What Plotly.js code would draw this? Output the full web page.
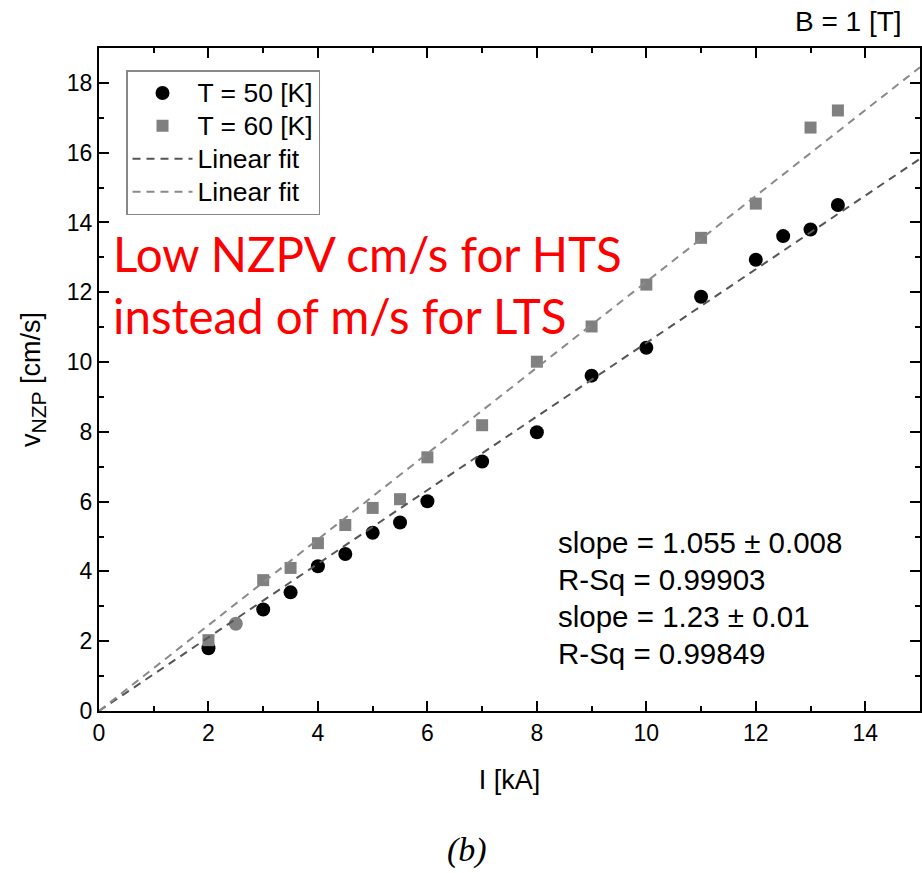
<!DOCTYPE html>
<html>
<head>
<meta charset="utf-8">
<script src="https://cdn.plot.ly/plotly-3.0.1.min.js"></script>
<style>
  html, body { margin: 0; padding: 0; background: #fff; }
  #chart { width: 922px; height: 873px; }
</style>
</head>
<body>
<div id="chart"></div>
<script>
// Normal-zone propagation velocity vs. transport current at B = 1 T
const current50 = [2, 2.5, 3, 3.5, 4, 4.5, 5, 5.5, 6, 7, 8, 9, 10, 11, 12, 12.5, 13, 13.5];
const velocity50 = [1.80, 2.50, 2.91, 3.40, 4.15, 4.50, 5.11, 5.40, 6.01, 7.15, 7.99, 9.61, 10.41, 11.87, 12.93, 13.61, 13.80, 14.50];

const current60 = [2, 3, 3.5, 4, 4.5, 5, 5.5, 6, 7, 8, 9, 10, 11, 12, 13, 13.5];
const velocity60 = [2.03, 3.75, 4.10, 4.81, 5.33, 5.82, 6.07, 7.27, 8.19, 10.01, 11.02, 12.22, 13.56, 14.54, 16.72, 17.21];

// Linear fits through the origin
const slope50 = 1.055;
const slope60 = 1.23;
const fitRange = [0, 15];

const xTicks = [0, 2, 4, 6, 8, 10, 12, 14];
const yTicks = [0, 2, 4, 6, 8, 10, 12, 14, 16, 18];

const seriesNames = ['T = 50 [K]', 'T = 60 [K]', 'Linear fit', 'Linear fit'];

const statsLines = [
  'slope = 1.055 ± 0.008',
  'R-Sq = 0.99903',
  'slope = 1.23 ± 0.01',
  'R-Sq = 0.99849'
];

const sans = 'Liberation Sans, Arial, sans-serif';

// legend rows are spaced from the legend font size; labels are drawn a bit larger
const legendLabel = s => '<span style="font-size:26.5px">' + s + '</span>';

// the 2.5 kA point at 50 K sits under the 60 K marker colour
const colors50 = current50.map(v => (v === 2.5 ? '#808080' : '#000000'));

const traces = [
  {
    x: current50, y: velocity50, type: 'scatter', mode: 'markers',
    name: legendLabel(seriesNames[0]),
    marker: { symbol: 'circle', size: 14, color: colors50 }
  },
  {
    x: current60, y: velocity60, type: 'scatter', mode: 'markers',
    name: legendLabel(seriesNames[1]),
    marker: { symbol: 'square', size: 12, color: '#808080' }
  },
  {
    x: fitRange, y: fitRange.map(v => slope50 * v), type: 'scatter', mode: 'lines',
    name: legendLabel(seriesNames[2]),
    line: { color: '#555555', width: 2, dash: '8px,6px' }
  },
  {
    x: fitRange, y: fitRange.map(v => slope60 * v), type: 'scatter', mode: 'lines',
    name: legendLabel(seriesNames[3]),
    line: { color: '#8a8a8a', width: 2, dash: '8px,6px' }
  }
];

// plot area: left 99, right 920, top 48, bottom 711 (px)
const L = 99, R = 920, T = 48, B = 711;
const px2x = p => (p - L) / (R - L);
const px2y = p => (B - p) / (B - T);

const annotations = [
  {
    text: 'B = 1 [T]', xref: 'paper', yref: 'paper',
    x: px2x(904), y: px2y(22), xanchor: 'right', yanchor: 'middle',
    showarrow: false, font: { family: sans, size: 28, color: '#000' }
  },
  {
    text: 'Low NZPV cm/s for HTS', xref: 'paper', yref: 'paper',
    x: px2x(111), y: px2y(253), xanchor: 'left', yanchor: 'middle',
    showarrow: false, font: { family: 'Lato, sans-serif', size: 47.5, color: '#ff0000' }
  },
  {
    text: 'instead of m/s for LTS', xref: 'paper', yref: 'paper',
    x: px2x(111), y: px2y(315), xanchor: 'left', yanchor: 'middle',
    showarrow: false, font: { family: 'Lato, sans-serif', size: 47.5, color: '#ff0000' }
  },
  {
    text: '(b)', xref: 'paper', yref: 'paper',
    x: px2x(467), y: px2y(850), xanchor: 'center', yanchor: 'middle',
    showarrow: false, font: { family: 'Liberation Serif, serif', size: 34, color: '#000', style: 'italic' }
  }
];

const statsY = [542, 579, 616, 653];
statsLines.forEach((t, i) => {
  annotations.push({
    text: t, xref: 'paper', yref: 'paper',
    x: px2x(556), y: px2y(statsY[i]), xanchor: 'left', yanchor: 'middle',
    showarrow: false, font: { family: sans, size: 29.5, color: '#000' }
  });
});

const axisCommon = {
  showgrid: false, zeroline: false,
  showline: true, linecolor: '#000', linewidth: 2, mirror: 'ticks',
  ticks: 'inside', ticklen: 10, tickwidth: 2, tickcolor: '#000',
  tickfont: { family: sans, size: 23, color: '#000' }
};

const layout = {
  width: 922, height: 873,
  margin: { l: L, r: 922 - R, t: T, b: 873 - B, pad: 0 },
  paper_bgcolor: '#fff', plot_bgcolor: '#fff',
  showlegend: true,
  legend: {
    x: px2x(126), y: px2y(70), xanchor: 'left', yanchor: 'top',
    bgcolor: '#fff', bordercolor: '#888', borderwidth: 1.5,
    font: { family: sans, size: 23, color: '#000' },
    itemwidth: 60, tracegroupgap: 0
  },
  xaxis: Object.assign({}, axisCommon, {
    range: [0, 15], tickvals: xTicks, ticktext: xTicks.map(String),
    minor: { dtick: 1, tick0: 0, ticks: 'inside', ticklen: 5, tickwidth: 2, tickcolor: '#000' },
    title: { text: 'I [kA]', font: { family: sans, size: 27, color: '#000' }, standoff: 26 }
  }),
  yaxis: Object.assign({}, axisCommon, {
    range: [0, 19], tickvals: yTicks, ticktext: yTicks.map(String),
    minor: { dtick: 1, tick0: 0, ticks: 'inside', ticklen: 5, tickwidth: 2, tickcolor: '#000' },
    title: {
      text: 'v<sub><span style="font-size:21px">NZP</span></sub> [cm/s]',
      font: { family: sans, size: 27, color: '#000' }, standoff: 18
    }
  }),
  annotations: annotations
};

Plotly.newPlot('chart', traces, layout, { displayModeBar: false, staticPlot: true });
</script>
</body>
</html>
